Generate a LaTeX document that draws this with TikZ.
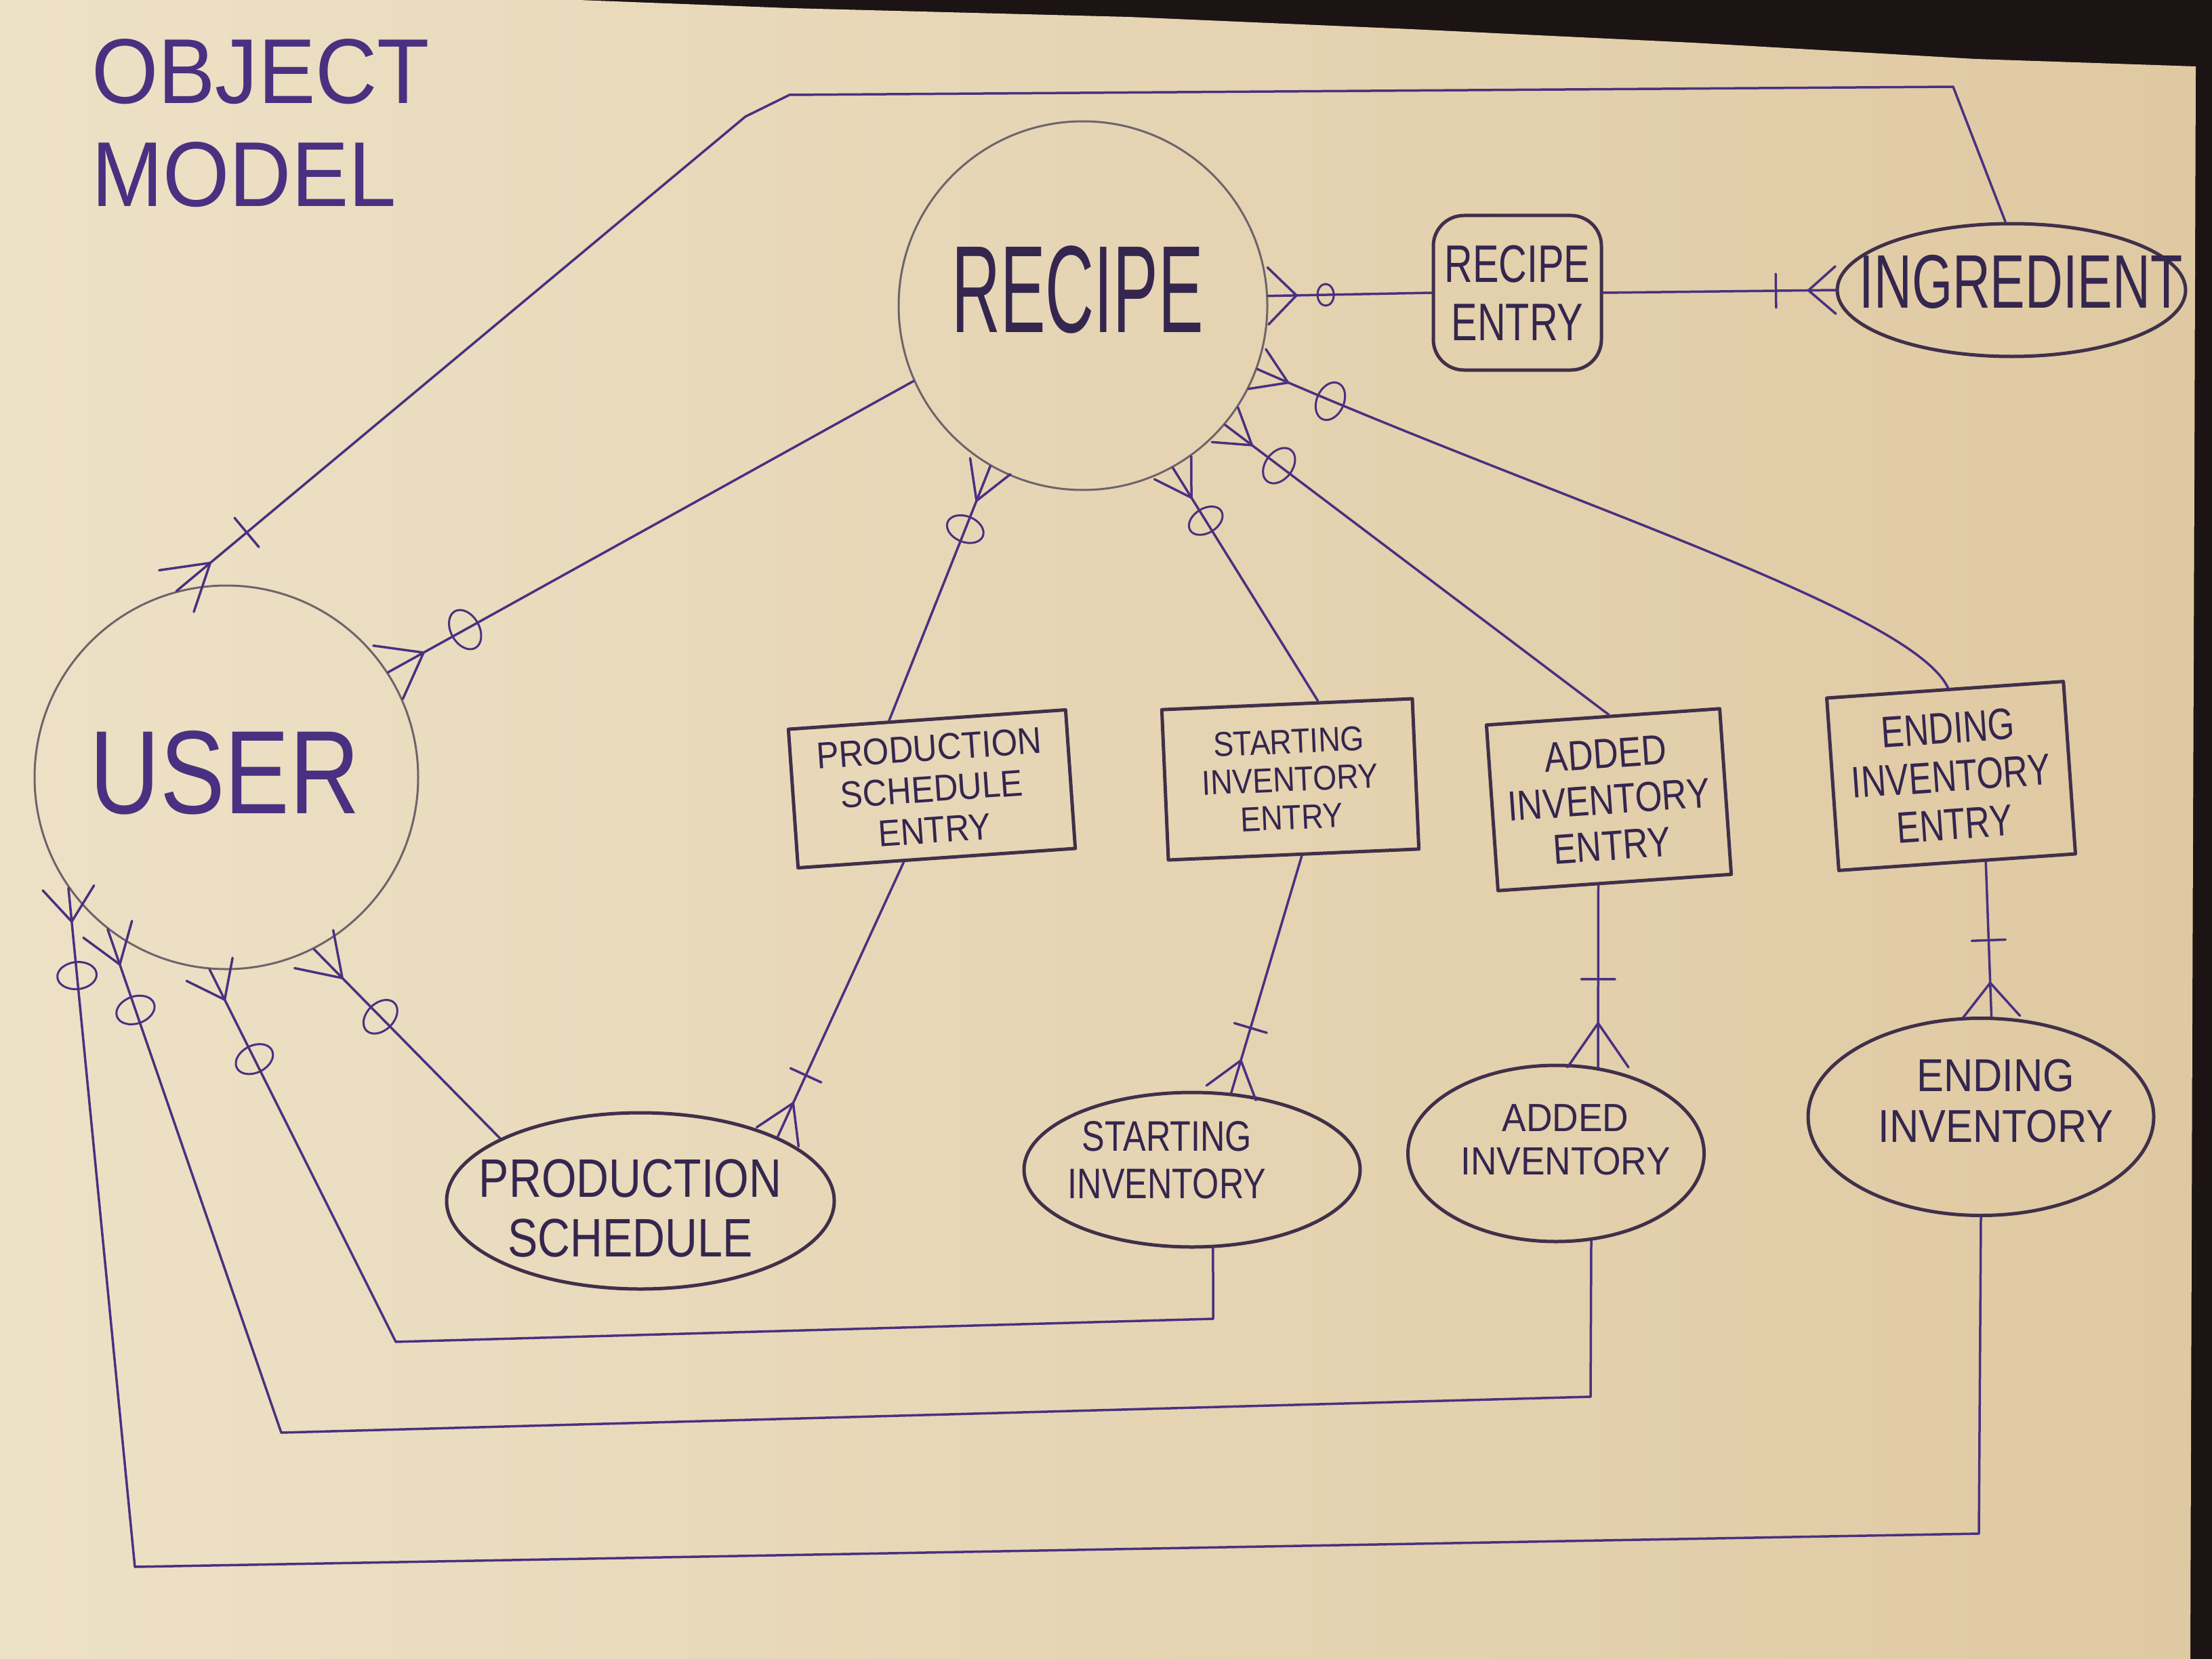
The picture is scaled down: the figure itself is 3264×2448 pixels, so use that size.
\documentclass[tikz,border=0pt]{standalone}
\usepackage{fontspec}
\setmainfont{Liberation Sans}
\usetikzlibrary{calc,shapes.geometric}

\definecolor{paperL}{RGB}{237,225,198}
\definecolor{paperR}{RGB}{223,201,162}
\definecolor{darkbg}{RGB}{28,20,20}
\definecolor{ink}{RGB}{74,48,128}
\definecolor{boxink}{RGB}{64,48,74}
\definecolor{boxtext}{RGB}{52,38,78}
\definecolor{pencil}{RGB}{110,100,106}

\newcommand\hfont[3]{\fontspec[FakeStretch=#1]{Liberation Sans}\fontsize{#2}{#3}\selectfont}
\newcommand\crowfoot[4]{\draw[conn] ($(#1)!#3!(#2)$) -- ($(#1)!#4!90:(#2)$) ($(#1)!#3!(#2)$) -- ($(#1)!#4!-90:(#2)$);}
\newcommand\tickmark[4]{\coordinate (tk) at ($(#1)!#3!(#2)$); \draw[conn] ($(tk)!#4!90:(#2)$) -- ($(tk)!#4!-90:(#2)$);}
\newcommand\zring[6]{\coordinate (zr) at ($(#1)!#3!(#2)$); \path (#1) -- (zr) node[ring, pos=1, sloped, minimum width=#4, minimum height=#5] (#6) {};}

\begin{document}
\begin{tikzpicture}[x=1pt,y=-1pt,
  conn/.style={draw=ink, line width=3.5pt, line cap=round, line join=round},
  bigc/.style={circle, draw=pencil, line width=3pt, inner sep=0pt},
  entbox/.style={rectangle, draw=boxink, line width=5pt, inner sep=0pt, align=center, text=boxtext, line join=round},
  entell/.style={ellipse, draw=boxink, line width=5pt, inner sep=0pt},
  lbl/.style={inner sep=0pt, align=center, text=boxtext},
  ring/.style={ellipse, draw=ink, line width=3pt, inner sep=0pt, fill=none}]

\useasboundingbox (0,0) rectangle (3264,2448);
\fill[darkbg] (0,0) rectangle (3264,2448);
\shade[left color=paperL, right color=paperR] (0,0) -- (854,0) -- (1166,12) -- (1666,25) -- (2082,43) -- (2498,63) -- (2915,87) -- (3240,98) -- (3238,700) -- (3235,1500) -- (3232,2448) -- (0,2448) -- cycle;

% title
\node[lbl, anchor=north west, align=left, text=ink, font=\hfont{0.93}{136}{152}] (title) at (135,57) {OBJECT\\MODEL};

% entities
\node[bigc, minimum size=544pt] (recipe) at (1598,451) {};
\node[lbl, font=\hfont{0.545}{183}{183}] (recipeT) at (1590,428) {RECIPE};
\node[bigc, minimum size=566pt] (user) at (334,1147) {};
\node[lbl, text=ink, font=\hfont{0.82}{175}{175}] (userT) at (332,1140) {USER};

\node[entbox, rounded corners=45pt, minimum width=248pt, minimum height=228pt, font=\hfont{0.74}{78}{86}] (rentry) at (2239,432) {RECIPE\\ENTRY};
\node[entell, minimum width=514pt, minimum height=196pt] (ingr) at (2968,428) {};
\node[lbl, font=\hfont{0.69}{112}{112}] (ingrT) at (2982,416) {INGREDIENT};

\node[entbox, rotate=4, minimum width=410pt, minimum height=205pt, font=\hfont{0.9}{55}{60.5}] (pse) at (1375,1164) {PRODUCTION\\SCHEDULE\\ENTRY};
\node[entbox, rotate=2.5, minimum width=370pt, minimum height=222pt, font=\hfont{0.88}{51}{56}] (sie) at (1904,1150) {STARTING\\INVENTORY\\ENTRY};
\node[entbox, rotate=4, minimum width=345pt, minimum height=245pt, font=\hfont{0.83}{62}{68}] (aie) at (2374,1180) {ADDED\\INVENTORY\\ENTRY};
\node[entbox, rotate=4, minimum width=350pt, minimum height=255pt, font=\hfont{0.78}{65}{71}] (eie) at (2879,1145) {ENDING\\INVENTORY\\ENTRY};

\node[entell, minimum width=572pt, minimum height=260pt] (ps) at (945,1772) {};
\node[lbl, font=\hfont{0.83}{80}{88}] (psT) at (930,1783) {PRODUCTION\\SCHEDULE};
\node[entell, minimum width=496pt, minimum height=228pt] (si) at (1759,1726) {};
\node[lbl, font=\hfont{0.8}{63}{70}] (siT) at (1722,1712) {STARTING\\INVENTORY};
\node[entell, minimum width=437pt, minimum height=260pt] (ai) at (2296,1702) {};
\node[lbl, font=\hfont{0.92}{58}{64}] (aiT) at (2310,1682) {ADDED\\INVENTORY};
\node[entell, minimum width=510pt, minimum height=291pt] (ei) at (2923,1648) {};
\node[lbl, font=\hfont{0.88}{68}{75}] (eiT) at (2945,1625) {ENDING\\INVENTORY};

% bend points
\coordinate (tA) at (1100,172);
\coordinate (tB) at (1165,140);
\coordinate (tC) at (2882,128);
\coordinate (eC1) at (2300,740);
\coordinate (eC2) at (2820,900);
\coordinate (aA) at (199,2312);
\coordinate (aB) at (2920,2263);
\coordinate (bA) at (415,2114);
\coordinate (bB) at (2347,2061);
\coordinate (cA) at (584,1980);
\coordinate (cB) at (1790,1946);

% USER -- INGREDIENT (top)
\draw[conn] (user.105) -- (tA) -- (tB) -- (tC) -- (ingr.95);
\crowfoot{user.105}{tA}{65pt}{40pt}
\tickmark{user.105}{tA}{135pt}{28pt}

% USER -- RECIPE
\draw[conn] (user.33) -- (recipe.204);
\crowfoot{user.33}{recipe.204}{60pt}{45pt}
\zring{user.33}{recipe.204}{130pt}{42pt}{62pt}{o1}

% RECIPE -- entries
\draw[conn] (recipe.240) -- (pse.118);
\crowfoot{recipe.240}{pse.118}{55pt}{32pt}
\zring{recipe.240}{pse.118}{100pt}{38pt}{56pt}{o2}

\draw[conn] (recipe.299) -- (sie.68);
\crowfoot{recipe.299}{sie.68}{52pt}{32pt}
\zring{recipe.299}{sie.68}{92pt}{36pt}{54pt}{o3}

\draw[conn] (recipe.320) -- (aie.86);
\crowfoot{recipe.320}{aie.86}{50pt}{32pt}
\zring{recipe.320}{aie.86}{100pt}{40pt}{58pt}{o4}

\draw[conn] (recipe.340) .. controls (eC1) and (eC2) .. (eie.88);
\crowfoot{recipe.340}{eC1}{50pt}{32pt}
\zring{recipe.340}{eC1}{118pt}{40pt}{58pt}{o5}

\draw[conn] (recipe.3) -- (rentry.west);
\crowfoot{recipe.3}{rentry.west}{42pt}{42pt}
\zring{recipe.3}{rentry.west}{85pt}{24pt}{32pt}{o6}

% RECIPE ENTRY -- INGREDIENT
\draw[conn] (rentry.east) -- (ingr.west);
\crowfoot{ingr.west}{rentry.east}{40pt}{35pt}
\tickmark{ingr.west}{rentry.east}{88pt}{25pt}

% entries -- their parents
\draw[conn] (pse.245) -- (ps.25);
\crowfoot{ps.25}{pse.245}{55pt}{34pt}
\tickmark{ps.25}{pse.245}{100pt}{25pt}

\draw[conn] (sie.276) -- (si.63);
\crowfoot{si.63}{sie.276}{50pt}{38pt}
\tickmark{si.63}{sie.276}{100pt}{25pt}

\draw[conn] (aie.259) -- (ai.64);
\crowfoot{ai.64}{aie.259}{65pt}{45pt}
\tickmark{ai.64}{aie.259}{130pt}{25pt}

\draw[conn] (eie.288) -- (ei.84);
\crowfoot{ei.84}{eie.288}{50pt}{42pt}
\tickmark{ei.84}{eie.288}{113pt}{25pt}

% USER -- lower entities
\draw[conn] (user.215) -- (aA) -- (aB) -- (ei.south);
\crowfoot{user.215}{aA}{50pt}{38pt}
\zring{user.215}{aA}{130pt}{40pt}{58pt}{o7}

\draw[conn] (user.232) -- (bA) -- (bB) -- (ai.292);
\crowfoot{user.232}{bA}{55pt}{38pt}
\zring{user.232}{bA}{126pt}{40pt}{58pt}{o8}

\draw[conn] (user.265) -- (cA) -- (cB) -- (si.285);
\crowfoot{user.265}{cA}{50pt}{38pt}
\zring{user.265}{cA}{148pt}{40pt}{58pt}{o9}

\draw[conn] (user.297) -- (ps.156);
\crowfoot{user.297}{ps.156}{60pt}{40pt}
\zring{user.297}{ps.156}{140pt}{40pt}{58pt}{o10}

\end{tikzpicture}
\end{document}
